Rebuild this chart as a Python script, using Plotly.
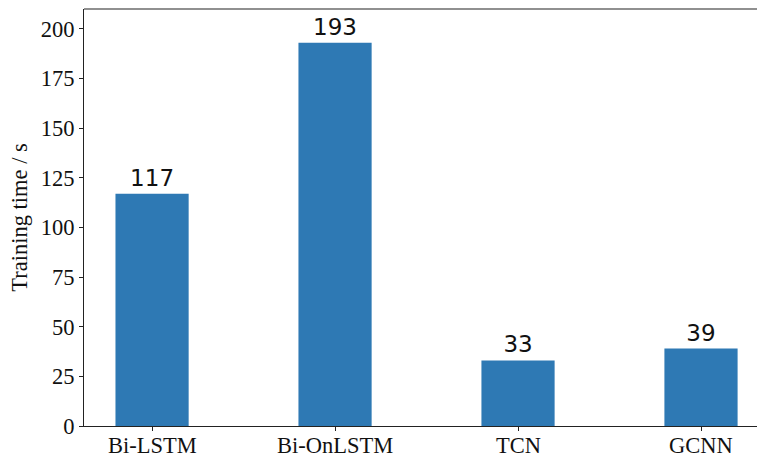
import plotly.graph_objects as go

models = ["Bi-LSTM", "Bi-OnLSTM", "TCN", "GCNN"]
train_time = [117, 193, 33, 39]
y_ticks = [0, 25, 50, 75, 100, 125, 150, 175, 200]

bar_color = "#2e79b4"
serif = "Liberation Serif, Times New Roman, serif"
positions = list(range(len(models)))

fig = go.Figure()
fig.add_trace(go.Bar(
    x=positions,
    y=train_time,
    width=0.4,
    marker=dict(color=bar_color, line=dict(width=0)),
    text=[str(v) for v in train_time],
    textposition="outside",
    textfont=dict(family="DejaVu Sans", size=23, color="#111111"),
    cliponaxis=False,
))

# top frame line (the right spine falls outside the canvas)
fig.add_shape(type="line", xref="paper", yref="paper", x0=0, x1=1, y0=1, y1=1,
              line=dict(color="#222", width=1.2))

# category labels placed tight under the ticks
for pos, name in zip(positions, models):
    fig.add_annotation(x=pos, xref="x", y=0, yref="paper", yanchor="top",
                       yshift=-5, text=name, showarrow=False,
                       font=dict(family=serif, size=22.5, color="#111"))

fig.update_layout(
    width=757, height=457,
    margin=dict(l=84, r=0, t=9, b=31),
    plot_bgcolor="white", paper_bgcolor="white",
    showlegend=False,
    uniformtext=dict(mode=False),
)
fig.update_xaxes(
    range=[-0.372, 3.306], automargin=False,
    tickmode="array", tickvals=positions, showticklabels=False,
    ticks="outside", ticklen=4, tickwidth=1, tickcolor="#222",
    showline=True, linecolor="#222", linewidth=1.2,
    showgrid=False, zeroline=False,
)
fig.update_yaxes(
    range=[0, 210], automargin=False,
    tickmode="array", tickvals=y_ticks,
    ticks="outside", ticklen=4, tickwidth=1, tickcolor="#222",
    showline=True, linecolor="#222", linewidth=1.2,
    showgrid=False, zeroline=False,
    tickfont=dict(family=serif, size=22.5, color="#111"),
    title=dict(text="Training time / s", font=dict(family=serif, size=22.5, color="#111"), standoff=6),
)

fig.write_html("out.html")
